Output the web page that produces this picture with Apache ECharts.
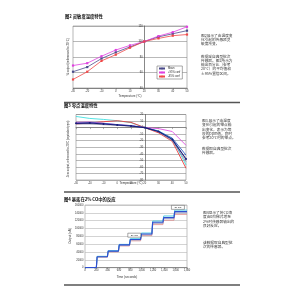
<!DOCTYPE html>
<html><head><meta charset="utf-8">
<script src="https://cdn.jsdelivr.net/npm/echarts@6/dist/echarts.min.js"></script>
<style>html,body{margin:0;padding:0;background:#fff}#c{width:300px;height:300px}</style>
</head><body><div id="c"></div>
<script>
// ---- Chart 1: sensitivity vs temperature ----
const temps = [-30, -20, -10, 0, 10, 20, 30, 40, 50];
const sensMean  = [61, 67, 78, 86, 93, 100, 106, 110, 114];
const sensPlus  = [69, 72, 81, 89, 95, 100, 107, 112, 119];
const sensMinus = [51, 61, 75, 83, 92, 100, 104, 107.5, 109];
const sensNames = ['Mean', '+95% conf', '-95% conf'];

// ---- Chart 2: zero vs temperature ----
const zeroCyan    = [17, 14, 12.5, 10.5, 7.5, 0, -5, -17, -57];
const zeroRed     = [5.5, 7, 9, 10.5, 8, 0, -8, -21, -62];
const zeroMagenta = [8, 8.5, 6.5, 4.5, 3, 0, -1.5, -6, -27];
const zeroBlue    = [6.5, 7.5, 6.5, 4.5, 3, 0, -5.5, -16, -42];
const zeroNavy    = [6.5, 7, 5.5, 4, 2.5, 0, -6, -18, -48];
const zeroGray    = [5.5, 5.5, 4.5, 3.5, 2, 0, -6.5, -20, -52];

// ---- Chart 3: step response to CO ----
const stepTimes  = [200, 395, 590, 785, 980, 1180, 1375, 1570];
const endTime    = 1800;
const stepBlue   = [28000, 42500, 58000, 72000, 86000, 116000, 128000, 143000];
const stepCyan   = [29000, 43500, 59500, 74000, 88500, 119000, 132000, 147000];
const stepGray   = [27500, 41500, 57000, 70500, 84000, 113000, 125000, 140000];
const stepRed    = [27000, 40500, 55500, 68500, 82000, 110000, 121000, 136000];
const annotText  = '2k-CO';

// ---- Texts ----
const title1 = '图2 灵敏度温度特性';
const title2 = '图3 零点温度特性';
const title3 = '图4 暴露在2% CO中的反应';
const para1a = ['图2展示了由温度变', '化引起的传感器灵', '敏度改变。'];
const para1b = ['数据采自典型批次', '传感器。图2所示为', '输出百分比（参考', '20°C）的平均值和', '±95%置信区间。'];
const para2a = ['图3 展示了由温度', '变化引起的零点输', '出变化，表示为等', '效的ppm值，同时', '参考20°C时的零点。'];
const para2b = ['数据取自典型批次', '传感器。'];
const para3a = ['图4显示了将CO浓', '度由0阶梯式增至', '2%时传感器输出的', '良好反应。'];
const para3b = ['该数据取自典型批', '次的传感器。'];

function pairs(xs, ys) { return xs.map((x, i) => [x, ys[i]]); }
function steps(levels) {
  const d = [[0, 0], [stepTimes[0], 0]];
  for (let i = 0; i < levels.length; i++) {
    d.push([stepTimes[i] + 14, levels[i]]);
    const next = i + 1 < stepTimes.length ? stepTimes[i + 1] : endTime;
    d.push([next, levels[i]]);
  }
  return d;
}

const CJK = '"Noto Sans CJK SC", sans-serif';
const LAT = 'Arial, "Liberation Sans", sans-serif';

function para(x, y, lines) {
  return { type: 'text', x: x, y: y,
    style: { text: lines.join('\n'), fontSize: 3.7, lineHeight: 4.3, fontFamily: CJK, fill: '#3a3a3a' } };
}
function head(x, y, t) {
  return { type: 'text', x: x, y: y,
    style: { text: t, fontSize: 4.3, fontWeight: 'bold', fontFamily: CJK, fill: '#111' } };
}
function rule(y) {
  return { type: 'line', shape: { x1: 64, y1: y, x2: 240, y2: y }, style: { stroke: '#555', lineWidth: 1.3 } };
}

const chart = echarts.init(document.getElementById('c'), null, { renderer: 'canvas' });

const tickLbl = { fontSize: 2.6, color: '#333', fontFamily: LAT, margin: 1.5 };
const gridLine = { show: true, lineStyle: { color: '#8a8a8a', width: 0.6 } };

const option = {
  animation: false,
  backgroundColor: '#fff',
  grid: [
    { left: 73, top: 26, width: 114, height: 62, show: true, borderColor: '#888', borderWidth: 0.6, backgroundColor: '#fff' },
    { left: 76, top: 114.5, width: 110, height: 65.5, show: true, borderColor: '#888', borderWidth: 0.6, backgroundColor: '#fff' },
    { left: 85, top: 205, width: 102, height: 62.7, show: true, borderColor: '#999', borderWidth: 0.6, backgroundColor: '#fff' }
  ],
  xAxis: [
    { gridIndex: 0, type: 'value', min: -30, max: 50, interval: 10,
      axisLine: { onZero: false, lineStyle: { color: '#666', width: 0.6 } },
      axisTick: { length: 1.5, lineStyle: { color: '#666', width: 0.5 } },
      axisLabel: tickLbl, splitLine: { show: false } },
    { gridIndex: 1, type: 'value', min: -30, max: 50, interval: 10,
      axisLine: { onZero: true, lineStyle: { color: '#666', width: 0.6 } },
      axisTick: { length: 1.5, lineStyle: { color: '#666', width: 0.5 } },
      axisLabel: tickLbl, splitLine: { show: false } },
    { gridIndex: 2, type: 'value', min: 0, max: 1800, interval: 200,
      axisLine: { onZero: false, lineStyle: { color: '#666', width: 0.6 } },
      axisTick: { length: 1.5, lineStyle: { color: '#666', width: 0.5 } },
      axisLabel: tickLbl, splitLine: { show: false } }
  ],
  yAxis: [
    { gridIndex: 0, type: 'value', min: 40, max: 120, interval: 20, position: 'left', offset: -71.25,
      axisLine: { show: true, onZero: false, lineStyle: { color: '#555', width: 0.7 } },
      axisTick: { show: false },
      axisLabel: tickLbl, splitLine: gridLine },
    { gridIndex: 1, type: 'value', min: -80, max: 20, interval: 10, position: 'left', offset: -68.75,
      axisLine: { show: true, onZero: false, lineStyle: { color: '#555', width: 0.7 } },
      axisTick: { show: false },
      axisLabel: tickLbl, splitLine: gridLine },
    { gridIndex: 2, type: 'value', min: 0, max: 160000, interval: 20000,
      axisLine: { show: false, onZero: false },
      axisTick: { show: false },
      axisLabel: Object.assign({}, tickLbl, { formatter: v => String(v) }),
      splitLine: { show: true, lineStyle: { color: '#b5b5b5', width: 0.6 } } }
  ],
  legend: {
    data: sensNames, left: 157, top: 66, orient: 'vertical',
    itemWidth: 6, itemHeight: 2, itemGap: 1, padding: [1, 2, 1, 1],
    borderColor: '#555', borderWidth: 0.5, backgroundColor: '#fff',
    textStyle: { fontSize: 2.6, color: '#222', fontFamily: LAT, padding: [0, 0, 0, -2] }
  },
  series: [
    { name: sensNames[0], type: 'line', xAxisIndex: 0, yAxisIndex: 0, data: pairs(temps, sensMean),
      symbol: 'rect', symbolSize: 2.2, color: '#4a4a8a', lineStyle: { width: 0.8 } },
    { name: sensNames[1], type: 'line', xAxisIndex: 0, yAxisIndex: 0, data: pairs(temps, sensPlus),
      symbol: 'rect', symbolSize: 2.2, color: '#e040e0', lineStyle: { width: 0.8 } },
    { name: sensNames[2], type: 'line', xAxisIndex: 0, yAxisIndex: 0, data: pairs(temps, sensMinus),
      symbol: 'rect', symbolSize: 2.2, color: '#f04848', lineStyle: { width: 0.8 } },

    { name: 'z1', type: 'line', xAxisIndex: 1, yAxisIndex: 1, data: pairs(temps, zeroCyan), symbol: 'none', color: '#40e0e0', lineStyle: { width: 0.9 } },
    { name: 'z2', type: 'line', xAxisIndex: 1, yAxisIndex: 1, data: pairs(temps, zeroRed), symbol: 'none', color: '#f03c3c', lineStyle: { width: 0.9 } },
    { name: 'z3', type: 'line', xAxisIndex: 1, yAxisIndex: 1, data: pairs(temps, zeroMagenta), symbol: 'none', color: '#e050e0', lineStyle: { width: 0.9 } },
    { name: 'z4', type: 'line', xAxisIndex: 1, yAxisIndex: 1, data: pairs(temps, zeroGray), symbol: 'none', color: '#8c8ca8', lineStyle: { width: 0.9 } },
    { name: 'z5', type: 'line', xAxisIndex: 1, yAxisIndex: 1, data: pairs(temps, zeroBlue), symbol: 'none', color: '#2f62c8', lineStyle: { width: 0.9 } },
    { name: 'z6', type: 'line', xAxisIndex: 1, yAxisIndex: 1, data: pairs(temps, zeroNavy), symbol: 'circle', symbolSize: 2, color: '#1c1c78', lineStyle: { width: 1.1 } },

    { name: 's1', type: 'line', xAxisIndex: 2, yAxisIndex: 2, data: steps(stepRed), symbol: 'none', color: '#e08c8c', lineStyle: { width: 0.8 } },
    { name: 's2', type: 'line', xAxisIndex: 2, yAxisIndex: 2, data: steps(stepGray), symbol: 'none', color: '#9a9ab8', lineStyle: { width: 0.8 } },
    { name: 's3', type: 'line', xAxisIndex: 2, yAxisIndex: 2, data: steps(stepCyan), symbol: 'none', color: '#3cc4e0', lineStyle: { width: 0.9 } },
    { name: 's4', type: 'line', xAxisIndex: 2, yAxisIndex: 2, data: steps(stepBlue), symbol: 'none', color: '#2f4fd0', lineStyle: { width: 1.2 },
      markPoint: {
        symbol: 'rect', symbolSize: [13, 4],
        itemStyle: { color: '#fff', borderColor: '#444', borderWidth: 0.4 },
        label: { show: true, formatter: annotText, fontSize: 2.4, color: '#222', fontFamily: LAT },
        data: [{ coord: [870, 83000] }, { coord: [1640, 154000] }]
      } }
  ],
  graphic: [
    head(65, 14.5, title1),
    head(64, 103.5, title2),
    head(64, 197, title3),
    rule(102.5), rule(192), rule(285),
    para(201, 33, para1a),
    para(201, 54, para1b),
    para(202, 118.5, para2a),
    para(202, 146.5, para2b),
    para(203, 210.5, para3a),
    para(203, 240.5, para3b),
    { type: 'text', x: 130, y: 94.5, style: { text: 'Temperature (°C)', fontSize: 3, fontFamily: LAT, fill: '#333', textAlign: 'center' } },
    { type: 'text', x: 131, y: 181.5, style: { text: 'Temperature (°C)', fontSize: 3, fontFamily: LAT, fill: '#333', textAlign: 'center' } },
    { type: 'text', x: 127, y: 275.5, style: { text: 'Time (seconds)', fontSize: 3, fontFamily: LAT, fill: '#333', textAlign: 'center' } },
    { type: 'text', x: 68, y: 57, rotation: Math.PI / 2, style: { text: '% output (referenced to 20°C)', fontSize: 2.8, fontFamily: LAT, fill: '#333', textAlign: 'center', textVerticalAlign: 'middle' } },
    { type: 'text', x: 68, y: 149, rotation: Math.PI / 2, style: { text: 'Zero output, referenced to 20°C (equivalent ppm)', fontSize: 2.6, fontFamily: LAT, fill: '#333', textAlign: 'center', textVerticalAlign: 'middle' } },
    { type: 'text', x: 70, y: 236, rotation: Math.PI / 2, style: { text: 'Output (nA)', fontSize: 3, fontFamily: LAT, fill: '#333', textAlign: 'center', textVerticalAlign: 'middle' } }
  ]
};
chart.setOption(option);
</script>
</body></html>
